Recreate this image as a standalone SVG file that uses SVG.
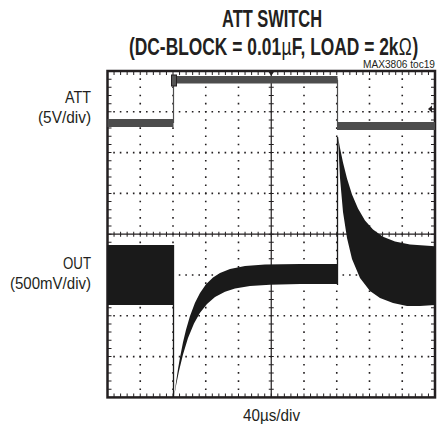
<svg xmlns="http://www.w3.org/2000/svg" width="437" height="432" viewBox="0 0 437 432">
<style>
text{font-family:"Liberation Sans",Arial,sans-serif;fill:#231f20}
.t{font-weight:bold;font-size:23px}
.s{font-size:23px}
.l{font-size:16px;text-anchor:end}
.dh{stroke:#231f20;stroke-width:1.6;stroke-dasharray:1.6 4.95;fill:none}
.dv{stroke:#231f20;stroke-width:1.6;stroke-dasharray:1.6 6.56;fill:none}
.att{fill:#4d4d4d}
.out{fill:#1a1a1a}
</style>
<rect width="437" height="432" fill="#fff"/>
<g id="title">
<text class="t" x="272" y="27" text-anchor="middle" textLength="100" lengthAdjust="spacingAndGlyphs">ATT SWITCH</text>
<g transform="scale(0.756,1)">
<text class="t" x="170.6" y="55">(DC-BLOCK = 0.01</text>
<text class="s" x="372.4" y="55">µ</text>
<text class="t" x="386" y="55">F, LOAD = 2k</text>
<text class="s" x="527.5" y="55">Ω</text>
<text class="t" x="545.5" y="55">)</text>
</g>
<text x="435" y="68" font-size="10" text-anchor="end" textLength="72" lengthAdjust="spacingAndGlyphs">MAX3806 toc19</text>
</g>
<g id="labels">
<text class="l" x="91" y="103" textLength="26" lengthAdjust="spacingAndGlyphs">ATT</text>
<text class="l" x="91" y="123" textLength="53" lengthAdjust="spacingAndGlyphs">(5V/div)</text>
<text class="l" x="91" y="269" textLength="28" lengthAdjust="spacingAndGlyphs">OUT</text>
<text class="l" x="91" y="289" textLength="81" lengthAdjust="spacingAndGlyphs">(500mV/div)</text>
<text x="271.5" y="421" font-size="16" text-anchor="middle" textLength="57" lengthAdjust="spacingAndGlyphs">40µs/div</text>
</g>
<g id="grid">
<path class="dh" d="M107.5 111.8H435M107.5 152.6H435M107.5 193.4H435M107.5 275H435M107.5 315.8H435M107.5 356.6H435" stroke-dashoffset="-5.75"/>
<path class="dv" d="M140.25 71V397.4M173 71V397.4M205.75 71V397.4M238.5 71V397.4M304 71V397.4M336.75 71V397.4M369.5 71V397.4M402.25 71V397.4" stroke-dashoffset="-7.36"/>
<path d="M107.5 234.2H435M271.25 71V397.4" stroke="#231f20" stroke-width="1.2"/>
<path d="M107.5 234.2H435" stroke="#231f20" stroke-width="5" stroke-dasharray="1 5.55" stroke-dashoffset="-6.05"/>
<path d="M271.25 71V397.4" stroke="#231f20" stroke-width="5" stroke-dasharray="1 7.16" stroke-dashoffset="-7.66"/>
<path d="M107.5 73H435M107.5 395.4H435" stroke="#231f20" stroke-width="4" stroke-dasharray="1 5.55" stroke-dashoffset="-6.05"/>
<path d="M109.5 71V397.4M433 71V397.4" stroke="#231f20" stroke-width="4" stroke-dasharray="1 7.16" stroke-dashoffset="-7.66"/>
<rect x="107.5" y="71" width="327.5" height="326.4" fill="none" stroke="#231f20" stroke-width="2.5"/>
</g>
<g id="att-trace">
<rect class="att" x="107.5" y="119" width="66" height="8"/>
<rect class="att" x="173" y="76" width="164.5" height="7.5"/>
<rect class="att" x="337" y="122" width="98" height="8"/>
<path d="M173.5 80V123M337.5 80V126" stroke="#4d4d4d" stroke-width="1.2"/>
<rect x="171.5" y="75" width="5" height="11" fill="#555" stroke="#231f20" stroke-width="1"/>
</g>
<g id="out-trace">
<rect class="out" x="107.5" y="245" width="66" height="60"/>
<path d="M173.5 245V397M337.5 137V285" stroke="#1a1a1a" stroke-width="1.3"/>
<polygon class="out" points="174,397 176,382.2 178,369.1 180,357.5 183,342.3 186,329.7 190,315.9 195,302.7 200,292.9 206,284.2 213,277.4 220,272.9 230,268.9 245,266 265,264.6 300,264.1 337.5,264 337.5,284 300,284.1 270,284.7 250,286.1 235,288.6 225,291.7 215,297.1 207,303.9 200,312.8 194,323.4 188,338.1 183,354.4 179,370.9 176,385.7"/>
<polygon class="out" points="338,137 340,148 343,162.4 347,178.5 352,194.4 358,208.6 365,220.4 373,229.6 383,236.7 395,241.5 410,244.5 435,246.3 435,305 420,306 407,306 393,303 380,298 370,291 360,278 352,259 347,238 343,212 340,178"/>
</g>
<g id="markers">
<polygon points="268,71 274.5,71 271.25,76" fill="#231f20"/>
<polygon points="428,109 432,105.5 432,112.5" fill="#231f20"/>
<path d="M432 109H435" stroke="#231f20" stroke-width="1.5"/>
</g>
</svg>
